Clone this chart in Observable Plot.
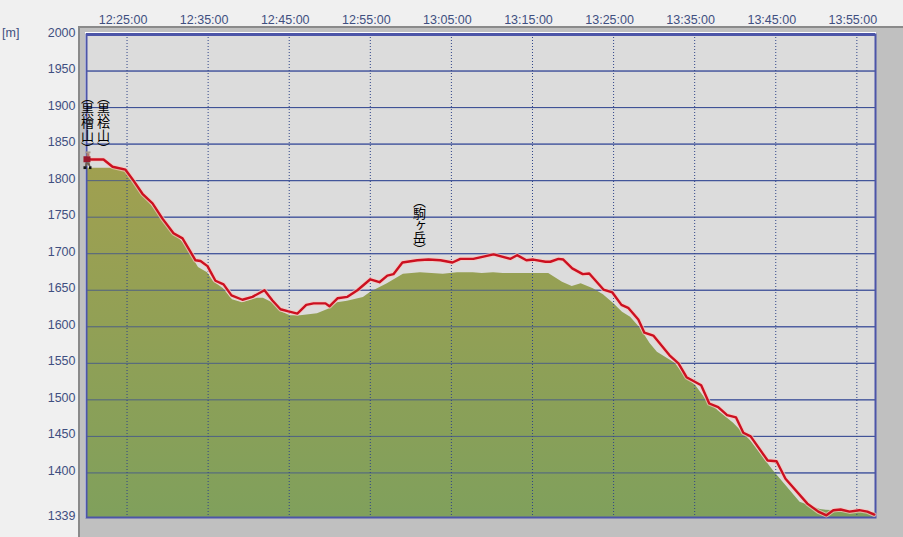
<!DOCTYPE html>
<html><head><meta charset="utf-8">
<script src="https://cdn.jsdelivr.net/npm/d3@7"></script>
<script src="https://cdn.jsdelivr.net/npm/@observablehq/plot@0.6"></script>
<style>
html,body{margin:0;padding:0;background:#f0f0f0;width:903px;height:537px;overflow:hidden}
#panel{position:absolute;left:78px;top:26px;width:825px;height:511px;background:#c0c0c0;border-left:2px solid #8a8a8a;border-top:2px solid #8a8a8a;box-sizing:border-box}
#inner{position:absolute;left:85px;top:32px;width:791px;height:486px;background:#fff}
#unit{position:absolute;left:2px;top:26px;font:12.5px "Liberation Sans",sans-serif;color:#3f4f80}
#chart{position:absolute;left:0;top:0}
#chart svg{background:transparent!important}
.peak text{writing-mode:vertical-rl;font-feature-settings:"vpal";fill:#000}
</style></head><body>
<div id="panel"></div><div id="inner"></div><div id="unit">[m]</div><div id="chart"></div>
<script>
const start = Date.UTC(2020,0,1,12,20,0);
const T = m => new Date(start + m*60000);
const endMinutes = 97.3;
const elevTicks = [1339,1400,1450,1500,1550,1600,1650,1700,1750,1800,1850,1900,1950,2000];
const timeTickMinutes = [5,15,25,35,45,55,65,75,85,95];
const timeTickLabels = ["12:25:00","12:35:00","12:45:00","12:55:00","13:05:00","13:15:00","13:25:00","13:35:00","13:45:00","13:55:00"];
const trackMinutes = [0.12,0.49,2.1,3.21,4.81,5.8,6.9,8.14,9.37,10.73,11.84,13.44,14.06,14.92,15.9,16.9,17.88,19.23,20.47,21.95,22.93,23.92,24.9,26.0,27.1,28,29.47,29.96,30.95,32.18,33.41,35.0,36.13,37.1,37.85,38.96,40.8,42.17,43.65,45.13,46.1,47.7,50.2,52.3,53.1,54.25,55.1,56.6,57.2,58.2,58.8,59.9,61.2,62.0,63.75,64.85,65.97,66.8,68.05,68.8,69.9,71.9,73,74,75.8,76.8,77.9,79,80.1,81,81.9,84,85.1,86.2,88.9,90.25,91.25,92.1,93,94.1,95.3,96.3,97.15];
const trackElev = [1830,1829,1829,1819,1815,1800,1782,1769,1748,1728,1721,1691,1690,1683,1663,1658,1643,1637,1641,1650,1636,1624,1621,1618,1630,1632,1632,1628,1639,1641,1650,1665,1661,1670,1672,1688,1691,1692,1691,1688,1693,1693,1699,1693,1698,1691,1692,1689,1689,1693,1692,1680,1672,1673,1651,1647,1630,1626,1610,1592,1588,1561,1550,1531,1520,1495,1490,1479,1476,1455,1450,1417,1416,1392,1358,1347,1342,1349,1350,1347,1349,1347,1343];
const groundMinutes = [0,4.56,6.04,7.52,9.37,10.73,11.96,13.81,14.92,15.66,16.9,18.0,19.23,21.08,21.82,22.93,23.92,25.15,26.39,28.48,29.84,30.95,32.18,34.15,35.0,36.25,37.1,39.08,41.18,44.0,45.75,47.7,48.8,50.2,51.4,57,58.7,59.9,61.0,62.5,63.75,65.0,66.1,67.1,68.3,69.5,70.4,72.6,73.9,75.1,76.3,77.9,79.8,81.9,84.7,88,90.5,91.25,97,97.3];
const groundElev = [1817,1817,1796,1773,1748,1728,1715,1681,1674,1662,1652,1637,1633,1639,1639,1633,1621,1615,1615,1618,1624,1633,1635,1640,1647,1654,1659,1672,1674,1672,1674,1674,1673,1674,1673,1673,1661,1655,1659,1652,1644,1632,1620,1613,1598,1577,1565,1550,1531,1520,1502,1485,1468,1444,1403,1360,1350,1349,1346,1346];
const peakNames = ["（黒檜山）","（黒桧山）","（駒ヶ岳）"];
const peakMinutes = [0.12,2.1,41.06];
const peakElev = [1921,1921,1779];
const hikerMinutes = [0.12];
const hikerElev = [1828];

const track = trackMinutes.map((m,i)=>({t:T(m),e:trackElev[i]}));
const ground = groundMinutes.map((m,i)=>({t:T(m),e:groundElev[i]}));
const peaks = peakNames.map((n,i)=>({n,t:T(peakMinutes[i]),e:peakElev[i]}));
const hiker = hikerMinutes.map((m,i)=>({t:T(m),e:hikerElev[i]}));
const hikerSvg = "data:image/svg+xml," + encodeURIComponent(`<svg xmlns="http://www.w3.org/2000/svg" viewBox="0 0 10 18"><path d="M3 0h5v2H3z" fill="#a89888"/><path d="M4 2h3v3H4z" fill="#b07868"/><path d="M1 5h7v6H1z" fill="#98182c"/><path d="M3 11h4l1 4H6.500L5 13l-1 2H2.500z" fill="#706050"/><path d="M1 15h3v3H1zM6.500 15H9v3H6.500z" fill="#111"/></svg>`);

const gradient = () => {
  const ns="http://www.w3.org/2000/svg";
  const defs=document.createElementNS(ns,"defs");
  defs.innerHTML='<linearGradient id="gr" x1="0" y1="0" x2="0" y2="1"><stop offset="0" stop-color="#a0a050"/><stop offset="1" stop-color="#80a05c"/></linearGradient>';
  return defs;
};
const times = timeTickMinutes.map(T);
const fmt = new Map(times.map((d,i)=>[+d,timeTickLabels[i]]));

const plot = Plot.plot({
  width:903,height:537,marginLeft:86,marginRight:28,marginTop:34,marginBottom:20,
  style:{background:"transparent",fontFamily:'"Liberation Sans",sans-serif',fontSize:"12.5px",color:"#3f4f80"},
  x:{type:"utc",domain:[T(0),T(endMinutes)],range:[86,875]},
  y:{domain:[1339,2000],range:[517,34]},
  marks:[
    gradient,
    Plot.frame({fill:"#dcdcdc"}),
    Plot.ruleY(elevTicks,{stroke:"#3c4eaa",strokeWidth:1}),
    Plot.areaY(ground,{x:"t",y:"e",y1:1339,y2:"e",fill:"url(#gr)"}),
    Plot.ruleY(elevTicks,{stroke:"#3f5090",strokeWidth:1,strokeOpacity:0.8}),
    Plot.ruleX(times,{stroke:"#2f4488",strokeWidth:1,strokeDasharray:"1,2"}),
    Plot.frame({stroke:"#4c55a8",strokeWidth:2}),
    Plot.ruleY([2000],{stroke:"#4c55a8",strokeWidth:3}),
    Plot.line(track,{x:"t",y:"e",stroke:"#f6c8c0",strokeWidth:4.5,strokeOpacity:0.7}),
    Plot.line(track,{x:"t",y:"e",stroke:"#cc1020",strokeWidth:2.4}),
    Plot.image(hiker,{x:"t",y:"e",src:()=>hikerSvg,width:10,height:18}),
    Plot.text(peaks,{x:"t",y:"e",text:"n",textAnchor:"start",lineAnchor:"middle",className:"peak",fontFamily:'"Noto Sans CJK JP"',fontSize:13,fill:"#000"}),
    Plot.axisX({anchor:"top",ticks:times,tickSize:0,tickPadding:11,dx:-4,tickFormat:d=>fmt.get(+d),label:null,fill:"#3f4f80",fontSize:12.5}),
    Plot.axisY({anchor:"left",ticks:elevTicks,tickSize:0,tickPadding:11,dy:-2,tickFormat:d=>String(d),label:null,fill:"#3f4f80",fontSize:12.5})
  ]
});
document.getElementById("chart").appendChild(plot);
</script></body></html>
